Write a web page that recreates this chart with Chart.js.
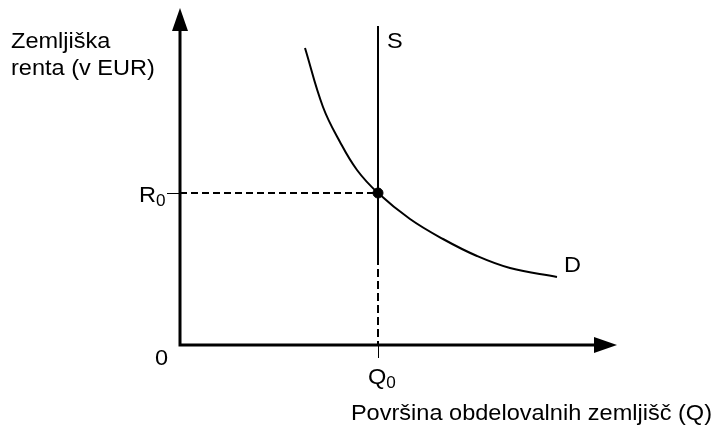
<!DOCTYPE html>
<html>
<head>
<meta charset="utf-8">
<script src="https://cdn.jsdelivr.net/npm/chart.js@4"></script>
<style>
  html, body { margin: 0; padding: 0; background: #fff; }
  #wrap { width: 714px; height: 428px; position: relative; }
</style>
</head>
<body>
<div id="wrap"><canvas id="chart"></canvas></div>
<script>
// Demand curve for land (D)
var demandQ = [125, 143, 160, 177, 198, 230, 263, 297, 330, 377];
var demandR = [297, 238, 203, 175, 152, 126, 106, 89, 77, 68];

// Fixed supply of land (S) and the equilibrium
var supplyQ = 198;
var supplyTop = 319;
var supplyDashFrom = 88;
var equilibriumQ = 198;
var equilibriumR = 152;

var axisMaxQ = 437;
var axisMaxR = 337;

var yTitle = ['Zemljiška', 'renta (v EUR)'];
var xTitle = 'Površina obdelovalnih zemljišč (Q)';

var FONT = '"Liberation Sans", Arial, sans-serif';
var STRETCH = 1.07;

function pts(xs, ys) {
    var out = [];
    for (var i = 0; i < xs.length; i++) {
        out.push({ x: xs[i], y: ys[i] });
    }
    return out;
}

// text is a bit wider in the original, so stretch it horizontally
function label(ctx, text, x, y, size, align) {
    ctx.save();
    ctx.font = size + 'px ' + FONT;
    ctx.textBaseline = 'alphabetic';
    var w = ctx.measureText(text).width * STRETCH;
    var left = x;
    if (align === 'right') left = x - w;
    ctx.translate(left, y);
    ctx.scale(STRETCH, 1);
    ctx.fillStyle = '#000';
    ctx.textAlign = 'left';
    ctx.fillText(text, 0, 0);
    ctx.restore();
    return w;
}

var diagram = {
    id: 'diagram',
    afterDatasetsDraw: function(chart) {
        var ctx = chart.ctx,
            xs = chart.scales.x,
            ys = chart.scales.y,
            x0 = xs.getPixelForValue(0),
            y0 = ys.getPixelForValue(0),
            xEnd = xs.getPixelForValue(axisMaxQ),
            yEnd = ys.getPixelForValue(axisMaxR);

        ctx.save();
        ctx.strokeStyle = '#000';
        ctx.fillStyle = '#000';

        // axes
        ctx.lineWidth = 3;
        ctx.beginPath();
        ctx.moveTo(x0, y0);
        ctx.lineTo(x0, yEnd + 20);
        ctx.moveTo(x0 - 1.5, y0);
        ctx.lineTo(xEnd - 20, y0);
        ctx.stroke();

        // arrow heads
        ctx.beginPath();
        ctx.moveTo(x0, yEnd);
        ctx.lineTo(x0 - 8, yEnd + 23);
        ctx.lineTo(x0 + 8, yEnd + 23);
        ctx.closePath();
        ctx.fill();
        ctx.beginPath();
        ctx.moveTo(xEnd, y0);
        ctx.lineTo(xEnd - 23, y0 - 8);
        ctx.lineTo(xEnd - 23, y0 + 8);
        ctx.closePath();
        ctx.fill();

        // small ticks at R0 and Q0
        var rPx = Math.round(ys.getPixelForValue(equilibriumR)),
            qPx = Math.round(xs.getPixelForValue(equilibriumQ));
        ctx.lineWidth = 1;
        ctx.beginPath();
        ctx.moveTo(x0 - 13, rPx + 0.5);
        ctx.lineTo(x0, rPx + 0.5);
        ctx.moveTo(qPx + 0.5, y0);
        ctx.lineTo(qPx + 0.5, y0 + 13);
        ctx.stroke();
        ctx.restore();

        // texts
        label(ctx, yTitle[0], 11, 48, 22, 'left');
        label(ctx, yTitle[1], 11, 75, 22, 'left');
        label(ctx, xTitle, 712, 420, 22, 'right');
        label(ctx, '0', 155, 365, 22, 'left');
        label(ctx, 'S', 387, 48, 22, 'left');
        label(ctx, 'D', 564, 272, 22, 'left');

        var w = label(ctx, 'R', 139, rPx + 9, 22, 'left');
        label(ctx, '0', 139 + w, rPx + 13, 16, 'left');
        w = label(ctx, 'Q', 368, 384, 22, 'left');
        label(ctx, '0', 368 + w, 388, 16, 'left');
    }
};

new Chart(document.getElementById('chart'), {
    type: 'scatter',
    data: {
        datasets: [
            {
                // D
                data: pts(demandQ, demandR),
                showLine: true,
                borderColor: '#000',
                borderWidth: 2,
                pointRadius: 0,
                tension: 0.4
            },
            {
                // S, solid part
                data: [{ x: supplyQ, y: supplyTop }, { x: supplyQ, y: supplyDashFrom }],
                showLine: true,
                borderColor: '#000',
                borderWidth: 2,
                pointRadius: 0
            },
            {
                // S, dashed down to Q0
                data: [{ x: supplyQ, y: supplyDashFrom }, { x: supplyQ, y: 0 }],
                showLine: true,
                borderColor: '#000',
                borderWidth: 2,
                borderDash: [8, 4],
                pointRadius: 0
            },
            {
                // dashed line to R0
                data: [{ x: 0, y: equilibriumR }, { x: equilibriumQ, y: equilibriumR }],
                showLine: true,
                borderColor: '#000',
                borderWidth: 2,
                borderDash: [7, 4],
                pointRadius: 0
            },
            {
                // equilibrium point
                data: [{ x: equilibriumQ, y: equilibriumR }],
                showLine: false,
                backgroundColor: '#000',
                borderColor: '#000',
                pointRadius: 5
            }
        ]
    },
    options: {
        responsive: true,
        maintainAspectRatio: false,
        animation: false,
        layout: { padding: { left: 180, right: 97, top: 8, bottom: 83 } },
        plugins: { legend: { display: false }, tooltip: { enabled: false } },
        scales: {
            x: { type: 'linear', min: 0, max: axisMaxQ, display: false },
            y: { type: 'linear', min: 0, max: axisMaxR, display: false }
        }
    },
    plugins: [diagram]
});
</script>
</body>
</html>
